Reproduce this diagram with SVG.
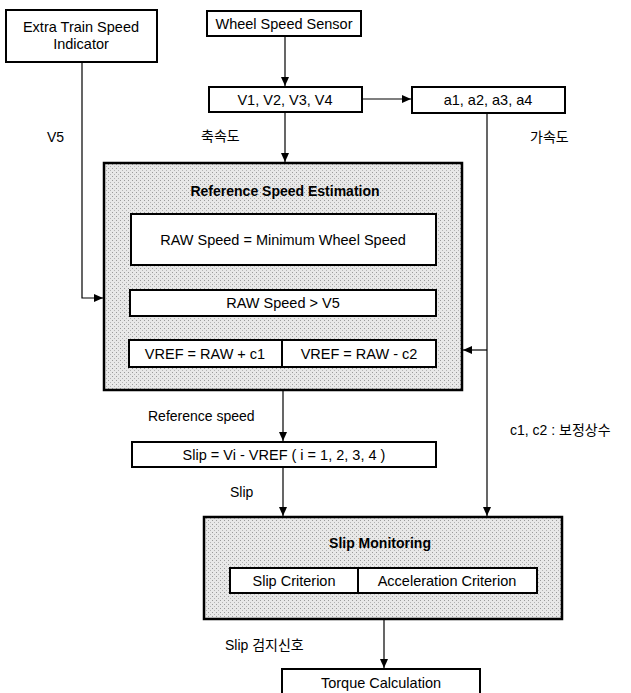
<svg xmlns="http://www.w3.org/2000/svg" width="631" height="693" viewBox="0 0 631 693">
<defs>
<marker id="ah" markerWidth="10" markerHeight="10" refX="9" refY="5" orient="auto" markerUnits="userSpaceOnUse">
<path d="M0,1 L9,5 L0,9 Z" fill="#000"/>
</marker>
<pattern id="stip" width="4" height="4" patternUnits="userSpaceOnUse">
<rect width="4" height="4" fill="#e8e8e8"/>
<rect x="0" y="0" width="1" height="1" fill="#9a9a9a"/>
<rect x="2" y="2" width="1" height="1" fill="#b4b4b4"/>
</pattern>
</defs>
<style>
.box{fill:#fff;stroke:#000;stroke-width:2}
.grp{fill:url(#stip);stroke:#000;stroke-width:2.5}
.t{font-family:"Liberation Sans",Arial,sans-serif;font-size:14.5px;fill:#000;text-anchor:middle}
.l{font-family:"Liberation Sans","Noto Sans CJK KR",sans-serif;font-size:14px;fill:#000}
.b{font-weight:bold;font-size:14px}
.c{fill:none;stroke:#000;stroke-width:1.2}
</style>
<rect width="631" height="693" fill="#fff"/>

<g id="connectors">
<path class="c" d="M285,36 V86" marker-end="url(#ah)"/>
<path class="c" d="M362,99 H411" marker-end="url(#ah)"/>
<path class="c" d="M285,112 V162" marker-end="url(#ah)"/>
<path class="c" d="M82,62 V298 H103" marker-end="url(#ah)"/>
<path class="c" d="M487,113 V516" marker-end="url(#ah)"/>
<path class="c" d="M487,350 H463" marker-end="url(#ah)"/>
<path class="c" d="M283,391 V441" marker-end="url(#ah)"/>
<path class="c" d="M283,467 V516" marker-end="url(#ah)"/>
<path class="c" d="M384,620 V668" marker-end="url(#ah)"/>
</g>

<g id="extra">
<rect class="box" x="6" y="10" width="151" height="52"/>
<text class="t" x="81" y="32">Extra Train Speed</text>
<text class="t" x="81" y="49">Indicator</text>
</g>
<g id="wss">
<rect class="box" x="207" y="11" width="154" height="25"/>
<text class="t" x="284" y="29">Wheel Speed Sensor</text>
</g>
<g id="vvals">
<rect class="box" x="209" y="87" width="153" height="25"/>
<text class="t" x="285" y="105">V1, V2, V3, V4</text>
</g>
<g id="avals">
<rect class="box" x="412" y="87" width="153" height="26"/>
<text class="t" x="488" y="105">a1, a2, a3, a4</text>
</g>

<g id="refest">
<rect class="grp" x="104" y="163" width="358" height="227"/>
<text class="t b" x="285" y="196">Reference Speed Estimation</text>
<rect class="box" x="131" y="214" width="305" height="51"/>
<text class="t" x="283" y="245">RAW Speed = Minimum Wheel Speed</text>
<rect class="box" x="130" y="290" width="306" height="26"/>
<text class="t" x="283" y="308">RAW Speed &gt; V5</text>
<rect class="box" x="129" y="340" width="153" height="27"/>
<text class="t" x="205" y="359">VREF = RAW + c1</text>
<rect class="box" x="282" y="340" width="154" height="27"/>
<text class="t" x="359" y="359">VREF = RAW - c2</text>
</g>

<g id="slipcalc">
<rect class="box" x="132" y="442" width="304" height="25"/>
<text class="t" x="284" y="460">Slip = Vi - VREF ( i = 1, 2, 3, 4 )</text>
</g>

<g id="slipmon">
<rect class="grp" x="204" y="517" width="358" height="102"/>
<text class="t b" x="380" y="548">Slip Monitoring</text>
<rect class="box" x="230" y="568" width="128" height="25"/>
<text class="t" x="294" y="586">Slip Criterion</text>
<rect class="box" x="358" y="568" width="179" height="25"/>
<text class="t" x="447" y="586">Acceleration Criterion</text>
</g>

<g id="torque">
<rect class="box" x="282" y="669" width="198" height="32"/>
<text class="t" x="381" y="688">Torque Calculation</text>
</g>

<g id="labels">
<text class="l" x="47" y="142">V5</text>
<text class="l" x="201" y="141">축속도</text>
<text class="l" x="530" y="142">가속도</text>
<text class="l" x="148" y="421">Reference speed</text>
<text class="l" x="510" y="435">c1, c2 : 보정상수</text>
<text class="l" x="225" y="650">Slip 검지신호</text>
<text class="l" x="230" y="497">Slip</text>
</g>
</svg>
